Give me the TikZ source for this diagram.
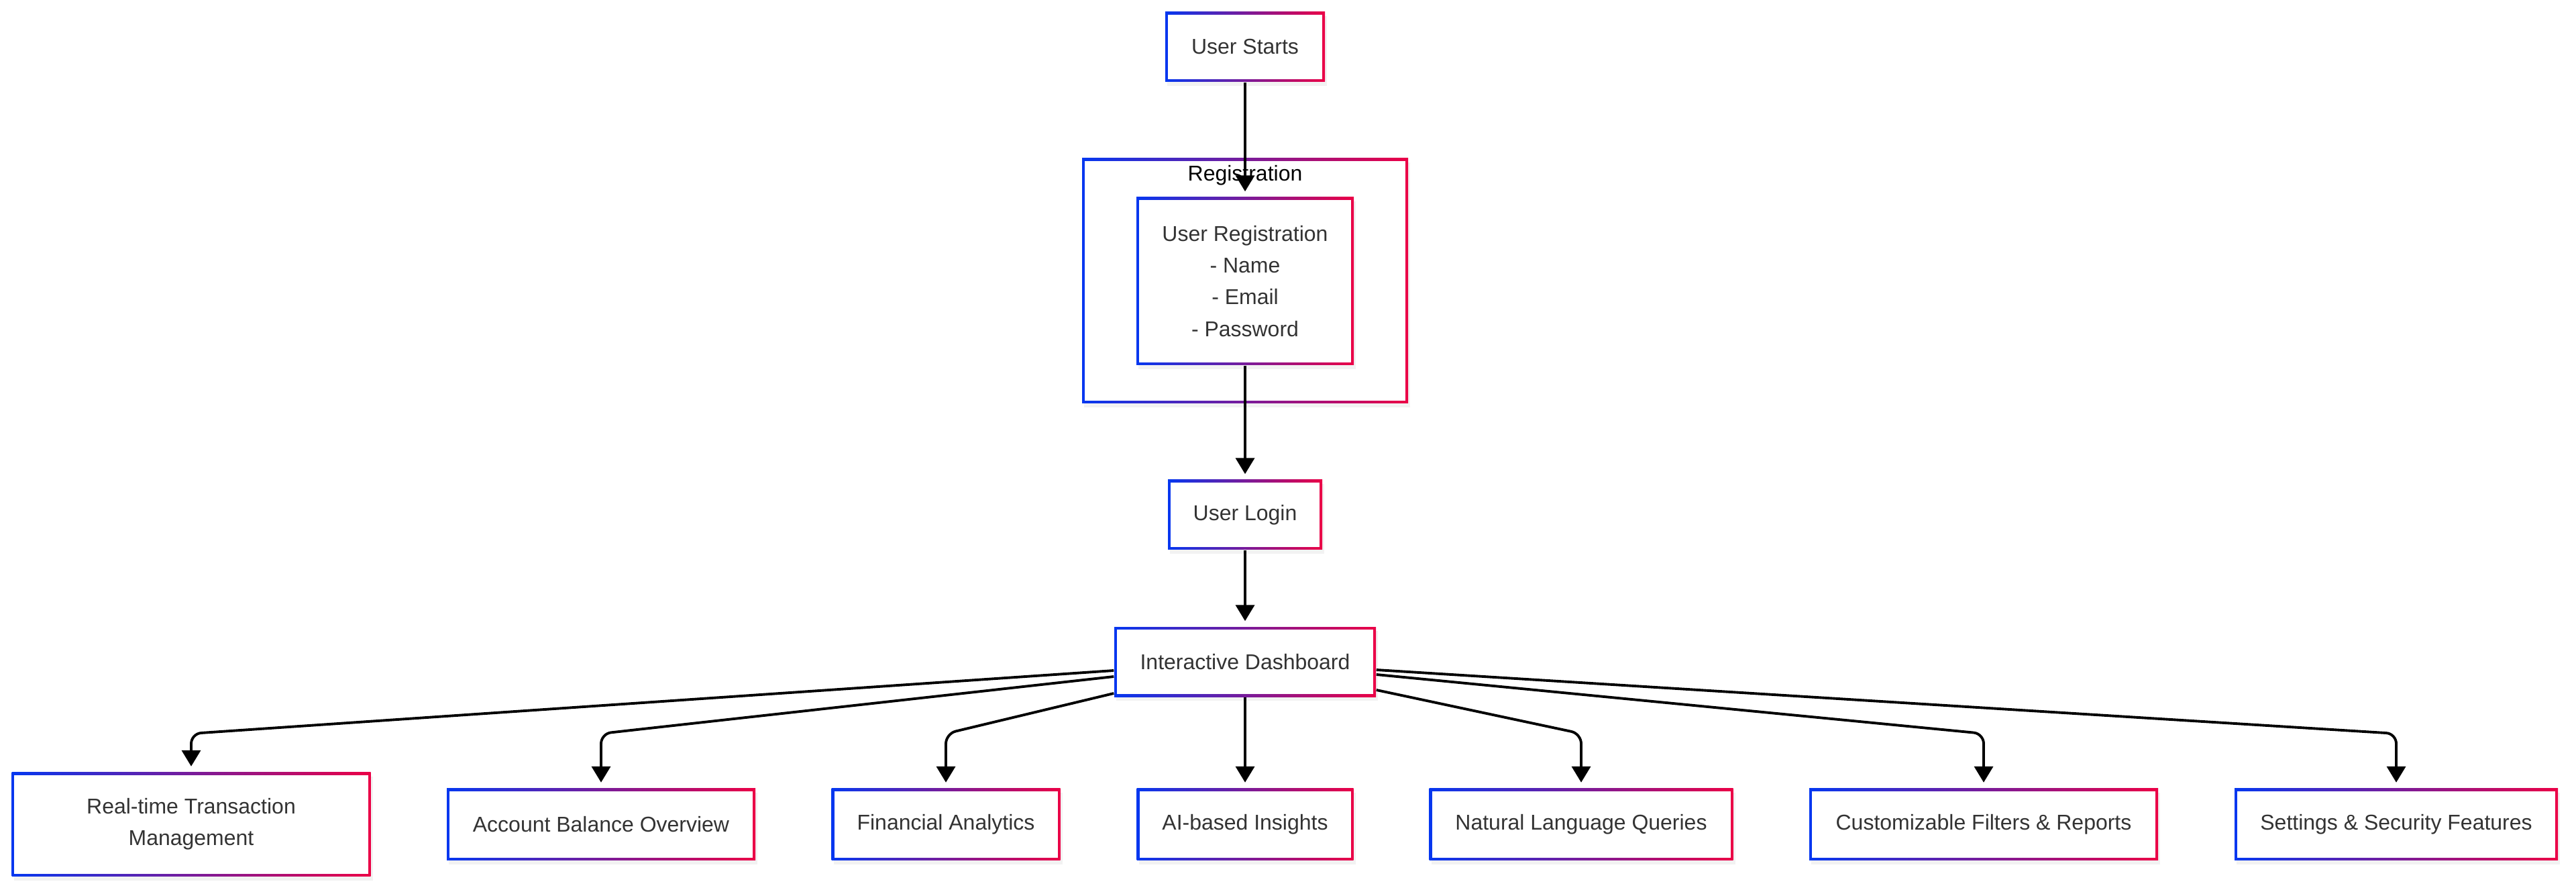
\documentclass[tikz,border=0pt]{standalone}
\usepackage{fontspec}
\setmainfont{Liberation Sans}
\usepackage{tikz}
\usetikzlibrary{arrows.meta, shadows}
\definecolor{gblue}{RGB}{5,55,240}
\definecolor{gred}{RGB}{235,0,70}
\definecolor{txt}{RGB}{51,51,51}
\tikzset{
  gradframe/.style={path picture={
    \shade[left color=gblue, right color=gred] (path picture bounding box.south west) rectangle (path picture bounding box.north east);
    \fill[white] ([shift={(0.04,0.04)}]path picture bounding box.south west) rectangle ([shift={(-0.04,-0.04)}]path picture bounding box.north east);}},
  box/.style={gradframe, rectangle, inner sep=0pt, minimum height=1.04cm, text=txt,
    font=\fontsize{9.1pt}{13.4pt}\selectfont, align=center,
    drop shadow={opacity=0.10, shadow xshift=0.03cm, shadow yshift=-0.06cm}},
  flow/.style={line width=1.1pt, -{Triangle[length=0.24cm, width=0.28cm]}, shorten >=0.08cm, rounded corners=0.15cm}
}

\begin{document}
\begin{tikzpicture}
  \useasboundingbox (0,0) rectangle (38.4,-13.26);

  \node[box, minimum width=2.38cm] (start) at (18.56,-0.70) {User Starts};

  \node[box, minimum width=4.86cm, minimum height=3.65cm] (regbox) at (18.56,-4.185) {};
  \node[font=\fontsize{9.1pt}{13.4pt}\selectfont, inner sep=0pt] (regtitle) at (18.56,-2.61) {Registration};
  \node[box, minimum width=3.24cm, minimum height=2.50cm] (reg) at (18.56,-4.19)
    {User Registration\\- Name\\- Email\\- Password};

  \node[box, minimum width=2.30cm] (login) at (18.56,-7.67) {User Login};
  \node[box, minimum width=3.90cm] (dash) at (18.56,-9.86) {Interactive Dashboard};

  \node[box, minimum width=5.35cm, minimum height=1.55cm] (rt) at (2.85,-12.28) {Real-time Transaction\\Management};
  \node[box, minimum width=4.60cm, minimum height=1.07cm] (acct) at (8.96,-12.28) {Account Balance Overview};
  \node[box, minimum width=3.41cm, minimum height=1.07cm] (fin) at (14.10,-12.28) {Financial Analytics};
  \node[box, minimum width=3.23cm, minimum height=1.07cm] (ai) at (18.56,-12.28) {AI-based Insights};
  \node[box, minimum width=4.53cm, minimum height=1.07cm] (nlq) at (23.57,-12.28) {Natural Language Queries};
  \node[box, minimum width=5.20cm, minimum height=1.07cm] (cust) at (29.57,-12.28) {Customizable Filters \& Reports};
  \node[box, minimum width=4.82cm, minimum height=1.07cm] (sec) at (35.72,-12.28) {Settings \& Security Features};

  \coordinate (elbow) at (0,-10.93);

  \draw[flow] (start) -- (reg);
  \draw[flow] (reg) -- (login);
  \draw[flow] (login) -- (dash);

  \draw[flow] ([yshift=-0.13cm]dash.west) -- (rt.north |- elbow) -- (rt.north);
  \draw[flow] ([yshift=-0.22cm]dash.west) -- (acct.north |- elbow) -- (acct.north);
  \draw[flow] ([yshift=-0.47cm]dash.west) -- (fin.north |- elbow) -- (fin.north);
  \draw[flow] (dash) -- (ai);
  \draw[flow] ([yshift=-0.42cm]dash.east) -- (nlq.north |- elbow) -- (nlq.north);
  \draw[flow] ([yshift=-0.19cm]dash.east) -- (cust.north |- elbow) -- (cust.north);
  \draw[flow] ([yshift=-0.12cm]dash.east) -- (sec.north |- elbow) -- (sec.north);
\end{tikzpicture}
\end{document}
